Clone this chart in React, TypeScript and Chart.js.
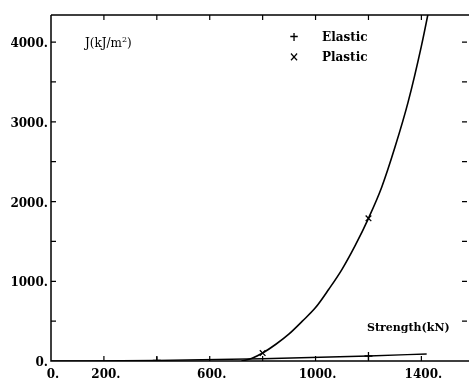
import React, { useEffect, useRef } from "react";
import { Chart, registerables } from "chart.js";

Chart.register(...registerables);

// Plastic J vs strength
const plasticF = [720, 760, 800, 850, 900, 950, 1000, 1050, 1100, 1150, 1200, 1250, 1300, 1350, 1400, 1440];
const plasticJ = [0, 35, 100, 210, 340, 500, 670, 900, 1150, 1450, 1790, 2180, 2680, 3250, 3950, 4600];
const plasticMarkF = [800, 1200];
const plasticMarkJ = [100, 1790];

// Elastic J vs strength
const elasticF = [0, 400, 800, 1200, 1420];
const elasticJ = [0, 7, 28, 63, 88];
const elasticMarkF = [400, 1200];
const elasticMarkJ = [7, 63];

const xLabelValues = [0, 200, 600, 1000, 1400];
const yLabelValues = [0, 1000, 2000, 3000, 4000];
const xMinorStep = 200;
const yMinorStep = 500;
const X_MAX = 1580;
const Y_MAX = 4340;

const FONT = "'DejaVu Serif', 'Liberation Serif', serif";

const framePlugin = {
  id: "frame",
  afterDraw(chart: any) {
    const { ctx, chartArea } = chart;
    const xs = chart.scales.x;
    const ys = chart.scales.y;
    const { left, right, top, bottom } = chartArea;
    ctx.save();
    ctx.strokeStyle = "#000";
    ctx.lineWidth = 1.5;
    ctx.beginPath();
    ctx.moveTo(left, top);
    ctx.lineTo(left, bottom);
    ctx.lineTo(chart.width, bottom);
    ctx.moveTo(left, top);
    ctx.lineTo(chart.width, top);
    ctx.stroke();
    ctx.lineWidth = 1.2;
    ctx.beginPath();
    for (let v = xMinorStep; v < X_MAX; v += xMinorStep) {
      const px = xs.getPixelForValue(v);
      ctx.moveTo(px, bottom);
      ctx.lineTo(px, bottom - 5);
      ctx.moveTo(px, top);
      ctx.lineTo(px, top + 5);
    }
    for (let v = yMinorStep; v < Y_MAX; v += yMinorStep) {
      const py = ys.getPixelForValue(v);
      ctx.moveTo(left, py);
      ctx.lineTo(left + 5, py);
      ctx.moveTo(right - 7, py);
      ctx.lineTo(right - 2, py);
    }
    ctx.stroke();
    ctx.restore();
  },
};

const textStyle = (left: number, cy: number, size: number, bold = true): React.CSSProperties => ({
  position: "absolute",
  left,
  top: cy - size / 2,
  fontFamily: FONT,
  fontSize: size,
  lineHeight: `${size}px`,
  fontWeight: bold ? 700 : 400,
  color: "#000",
  whiteSpace: "nowrap",
});

export default function App() {
  const ref = useRef<HTMLCanvasElement | null>(null);
  useEffect(() => {
    if (!ref.current) return;
    const chart = new Chart(ref.current, {
      type: "scatter",
      data: {
        datasets: [
          {
            label: "Plastic curve",
            data: plasticF.map((f, i) => ({ x: f, y: plasticJ[i] })),
            showLine: true,
            borderColor: "#000",
            borderWidth: 1.6,
            pointRadius: 0,
            cubicInterpolationMode: "monotone",
          },
          {
            label: "Elastic curve",
            data: elasticF.map((f, i) => ({ x: f, y: elasticJ[i] })),
            showLine: true,
            borderColor: "#000",
            borderWidth: 1.4,
            pointRadius: 0,
            cubicInterpolationMode: "monotone",
          },
          {
            label: "Plastic",
            data: plasticMarkF.map((f, i) => ({ x: f, y: plasticMarkJ[i] })),
            pointStyle: "crossRot",
            pointRadius: 4,
            borderColor: "#000",
            borderWidth: 1.3,
            showLine: false,
          },
          {
            label: "Elastic",
            data: elasticMarkF.map((f, i) => ({ x: f, y: elasticMarkJ[i] })),
            pointStyle: "cross",
            pointRadius: 4,
            borderColor: "#000",
            borderWidth: 1.3,
            showLine: false,
          },
        ],
      },
      options: {
        animation: false,
        responsive: false,
        maintainAspectRatio: false,
        layout: { autoPadding: false, padding: { top: 15, right: 0, left: 0, bottom: 0 } },
        plugins: { legend: { display: false }, tooltip: { enabled: false } },
        scales: {
          x: {
            type: "linear",
            min: 0,
            max: X_MAX,
            afterBuildTicks: (s: any) => {
              s.ticks = xLabelValues.map((v) => ({ value: v }));
            },
            afterFit: (s: any) => {
              s.height = 26;
            },
            grid: { display: false, drawTicks: false },
            border: { display: false },
            ticks: {
              padding: 7,
              labelOffset: 2,
              color: "#000",
              font: { family: FONT, size: 12, weight: "bold" },
              callback: (v: any) => `${v}.`,
              maxRotation: 0,
              autoSkip: false,
            },
          },
          y: {
            type: "linear",
            min: 0,
            max: Y_MAX,
            afterBuildTicks: (s: any) => {
              s.ticks = yLabelValues.map((v) => ({ value: v }));
            },
            afterFit: (s: any) => {
              s.width = 51;
            },
            grid: { display: false, drawTicks: false },
            border: { display: false },
            ticks: {
              padding: 3,
              labelOffset: 2,
              color: "#000",
              font: { family: FONT, size: 12, weight: "bold" },
              callback: (v: any) => `${v}.`,
              autoSkip: false,
            },
          },
        },
      },
      plugins: [framePlugin],
    } as any);
    return () => chart.destroy();
  }, []);

  return (
    <div style={{ position: "fixed", left: 0, top: 0, width: 469, height: 387, background: "#fff", overflow: "hidden" }}>
      <canvas ref={ref} width={469} height={387} style={{ display: "block", width: 469, height: 387 }} />
      <div style={textStyle(85, 43, 12, false)}>
        J(kJ/m<sup style={{ fontSize: 8, lineHeight: 0 }}>2</sup>)
      </div>
      <div style={{ ...textStyle(289, 37, 12), width: 9, textAlign: "center" }}>+</div>
      <div style={textStyle(322, 37, 12)}>Elastic</div>
      <div style={{ ...textStyle(289, 57, 12), width: 9, textAlign: "center" }}>×</div>
      <div style={textStyle(322, 57, 12)}>Plastic</div>
      <div style={textStyle(367, 327, 11)}>Strength(kN)</div>
    </div>
  );
}
